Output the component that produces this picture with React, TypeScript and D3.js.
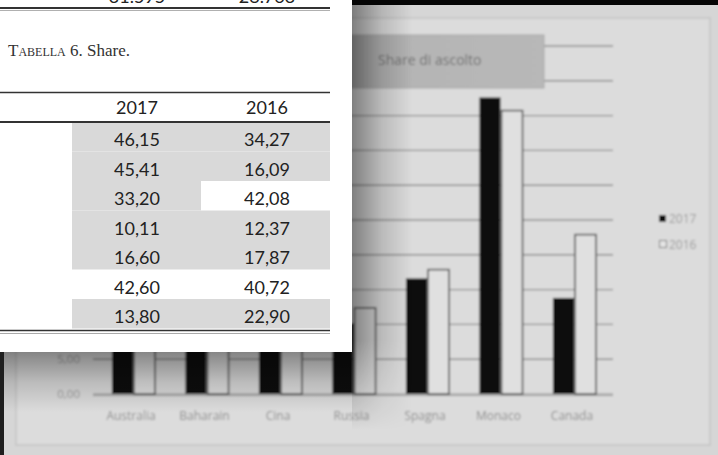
import React from "react";
import * as d3 from "d3";

const categories = ["Australia", "Baharain", "Cina", "Russia", "Spagna", "Monaco", "Canada"];
const values2017 = [46.15, 45.41, 33.2, 10.11, 16.6, 42.6, 13.8];
const values2016 = [34.27, 16.09, 42.08, 12.37, 17.87, 40.72, 22.9];
const seriesLabels = ["2017", "2016"];
const shade2017 = [true, true, true, true, true, false, true];
const shade2016 = [true, true, false, true, true, false, true];
const chartTitle = "Share di ascolto";
const captionLabel = "Tabella";
const captionRest = " 6. Share.";
const prevRowValues = ["31.595", "28.763"];

const W = 718;
const H = 455;

const fmt = (v: number) => d3.format(".2f")(v).replace(".", ",");

export default function App() {
  const x = d3.scaleBand<string>().domain(categories).range([97.25, 611.75]).paddingInner(0.4).paddingOuter(0.2);
  const y = d3.scaleLinear().domain([0, 50]).range([394, 46]);
  const sub = d3.scaleBand<string>().domain(seriesLabels).range([0, x.bandwidth()]);
  const ticks = y.ticks(10);

  // table geometry
  const colX = [137, 267];
  const cellX0 = [72, 201];
  const cellW = [129, 129];
  const rowTop = 122;
  const rowH = 29.5;
  const tableFont = "Lato, 'Open Sans', sans-serif";
  const chartFont = "'Open Sans', sans-serif";

  return (
    <div style={{ position: "fixed", left: 0, top: 0, width: W, height: H, overflow: "hidden" }}>
      <svg width={W} height={H} style={{ display: "block" }}>
        <defs>
          <filter id="blur" x="-5%" y="-5%" width="110%" height="110%">
            <feGaussianBlur stdDeviation="0.9" />
          </filter>
          <linearGradient id="shadowH" x1="0" x2="1" y1="0" y2="0">
            <stop offset="0" stopColor="#000" stopOpacity="0.42" />
            <stop offset="0.5" stopColor="#000" stopOpacity="0.15" />
            <stop offset="1" stopColor="#000" stopOpacity="0" />
          </linearGradient>
          <linearGradient id="shadowV" x1="0" x2="0" y1="0" y2="1">
            <stop offset="0" stopColor="#000" stopOpacity="0.4" />
            <stop offset="0.5" stopColor="#000" stopOpacity="0.15" />
            <stop offset="1" stopColor="#000" stopOpacity="0" />
          </linearGradient>
          <linearGradient id="fadeDown" gradientUnits="userSpaceOnUse" x1="0" x2="0" y1="340" y2="430">
            <stop offset="0" stopColor="#fff" />
            <stop offset="1" stopColor="#000" />
          </linearGradient>
          <mask id="shadowMask" maskUnits="userSpaceOnUse" x="0" y="0" width={W} height={H}>
            <rect x={0} y={0} width={W} height={H} fill="url(#fadeDown)" />
          </mask>
          <linearGradient id="titleGrad" x1="0" x2="1" y1="0" y2="0">
            <stop offset="0" stopColor="#9a9a9a" />
            <stop offset="0.3" stopColor="#b4b4b4" />
            <stop offset="1" stopColor="#b8b8b8" />
          </linearGradient>
        </defs>

        {/* photo background */}
        <rect x={0} y={0} width={W} height={H} fill="#d6d6d6" />
        <g filter="url(#blur)">
          {/* chart area */}
          <rect x={16} y={18} width={694} height={427} fill="#dcdcdc" stroke="#c4c4c4" strokeWidth={1.5} />

          {/* gridlines */}
          {ticks.map((t) => (
            <line key={"g" + t} x1={93} x2={613} y1={y(t)} y2={y(t)} stroke="#8e8e8e" strokeWidth={t === 0 ? 1.2 : 1.4} />
          ))}
          {/* y tick labels */}
          {ticks.map((t) => (
            <text key={"yl" + t} x={80} y={y(t) + 4} textAnchor="end" fontFamily={chartFont} fontSize={11.5} fill="#9a9a9a">
              {fmt(t)}
            </text>
          ))}

          {/* chart title box */}
          <rect x={300} y={35} width={244} height={53} fill="url(#titleGrad)" stroke="#a8a8a8" />
          <text x={378} y={65} fontFamily={chartFont} fontSize={14} fill="#6e6e6e">
            {chartTitle}
          </text>

          {/* bars */}
          {categories.map((c, i) => {
            const bx = x(c)!;
            const v17 = values2017[i];
            const v16 = values2016[i];
            return (
              <g key={c}>
                <rect x={bx + sub("2017")!} y={y(v17)} width={sub.bandwidth() - 1} height={y(0) - y(v17)} fill="#0e0e0e" />
                <rect
                  x={bx + sub("2016")!}
                  y={y(v16)}
                  width={sub.bandwidth() - 1}
                  height={y(0) - y(v16)}
                  fill="#e0e0e0"
                  stroke="#555"
                  strokeWidth={1.6}
                />
              </g>
            );
          })}
          {/* x axis */}
          <line x1={93} x2={613} y1={y(0) + 1.5} y2={y(0) + 1.5} stroke="#9a9a9a" strokeWidth={1.2} />
          {categories.map((c) => (
            <text
              key={"xl" + c}
              x={x(c)! + x.bandwidth() / 2 - 3}
              y={420}
              textAnchor="middle"
              fontFamily={chartFont}
              fontSize={12}
              fill="#8c8c8c"
            >
              {c}
            </text>
          ))}

          {/* legend */}
          <rect x={659} y={215} width={7} height={7} fill="#111" />
          <text x={669} y={222.5} fontFamily={chartFont} fontSize={12} fill="#9a9a9a">
            {seriesLabels[0]}
          </text>
          <rect x={659.5} y={240.5} width={7} height={7} fill="#e4e4e4" stroke="#777" strokeWidth={1} />
          <text x={669} y={248.5} fontFamily={chartFont} fontSize={12} fill="#9a9a9a">
            {seriesLabels[1]}
          </text>
        </g>

        {/* photo shadows near the paper */}
        <rect x={352} y={0} width={60} height={H} fill="url(#shadowH)" mask="url(#shadowMask)" />
        <rect x={0} y={352} width={352} height={60} fill="url(#shadowV)" />
        <rect x={0} y={352} width={4} height={103} fill="#1e1e1e" />
        <rect x={352} y={0} width={366} height={5} fill="#050505" />

        {/* paper table */}
        <rect x={0} y={0} width={352} height={352} fill="#ffffff" />
        {prevRowValues.map((v, i) => (
          <text key={"pv" + i} x={colX[i]} y={3} textAnchor="middle" fontFamily={tableFont} fontSize={18} fill="#222">
            {v}
          </text>
        ))}
        <line x1={0} x2={330} y1={8} y2={8} stroke="#333" strokeWidth={2} />
        <line x1={0} x2={330} y1={10.5} y2={10.5} stroke="#b0b0b0" strokeWidth={1} />
        <text x={8} y={56} fontFamily="'Liberation Serif', 'DejaVu Serif', serif" fontSize={17} fill="#333">
          <tspan style={{ fontVariant: "small-caps" }}>{captionLabel}</tspan>
          <tspan>{captionRest}</tspan>
        </text>
        <line x1={0} x2={330} y1={92.5} y2={92.5} stroke="#333" strokeWidth={1.3} />
        {seriesLabels.map((s, i) => (
          <text key={"h" + s} x={colX[i]} y={114} textAnchor="middle" fontFamily={tableFont} fontSize={18} fill="#222">
            {s}
          </text>
        ))}
        {categories.map((c, r) => (
          <g key={"row" + c}>
            {shade2017[r] && <rect x={cellX0[0]} y={rowTop + r * rowH} width={cellW[0]} height={rowH} fill="#d9d9d9" />}
            {shade2016[r] && <rect x={cellX0[1]} y={rowTop + r * rowH} width={cellW[1]} height={rowH} fill="#d9d9d9" />}
          </g>
        ))}
        <line x1={0} x2={330} y1={122} y2={122} stroke="#333" strokeWidth={2} />
        {categories.map((c, r) => (
          <g key={"rowt" + c}>
            <text x={colX[0]} y={rowTop + r * rowH + 24} textAnchor="middle" fontFamily={tableFont} fontSize={18} fill="#222">
              {fmt(values2017[r])}
            </text>
            <text x={colX[1]} y={rowTop + r * rowH + 24} textAnchor="middle" fontFamily={tableFont} fontSize={18} fill="#222">
              {fmt(values2016[r])}
            </text>
          </g>
        ))}
        <line x1={0} x2={330} y1={330.5} y2={330.5} stroke="#333" strokeWidth={1.5} />
        <line x1={0} x2={330} y1={333.5} y2={333.5} stroke="#aaa" strokeWidth={1} />
      </svg>
    </div>
  );
}
